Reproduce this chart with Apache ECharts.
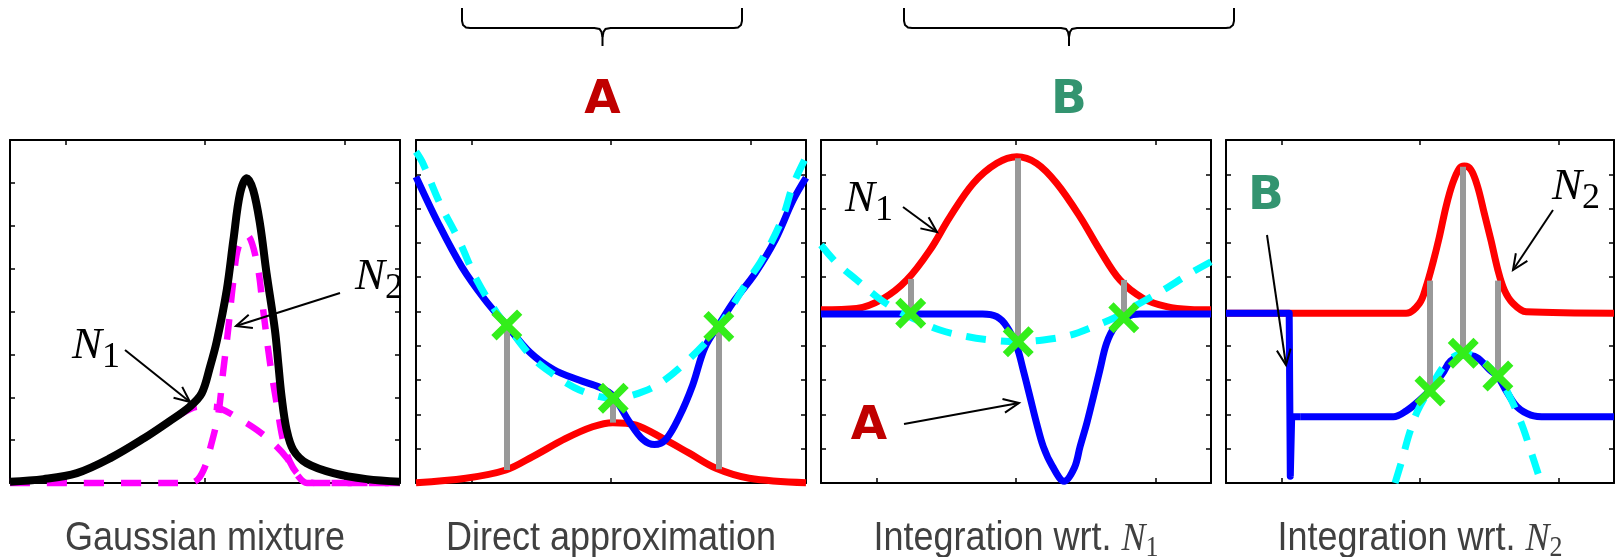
<!DOCTYPE html>
<html>
<head>
<meta charset="utf-8">
<script src="https://cdn.jsdelivr.net/npm/echarts@6/dist/echarts.min.js"></script>
<style>
html,body{margin:0;padding:0;background:#fff;}
#c{width:1615px;height:557px;}
</style>
</head>
<body>
<div id="c"></div>
<script>
// ---------- data (x in [-7,7]) ----------
const panelTitles = ['Gaussian mixture', 'Direct approximation', 'Integration wrt. ', 'Integration wrt. '];
const xTicks = [-5, 0, 5];
const yMaxes = [8, 10, 10, 10];

// Panel 1: Gaussian mixture
const mixture = [[-7,0.03],[-5.8,0.09],[-4.6,0.23],[-3.4,0.58],[-2.2,1.04],[-1.3,1.43],[-0.55,1.78],[-0.12,2.09],[0.18,2.71],[0.42,3.3],[0.78,4.5],[1.02,5.67],[1.26,6.76],[1.5,7.11],[1.73,6.83],[1.97,6.06],[2.21,4.89],[2.51,3.57],[2.63,2.79],[2.75,2.01],[2.93,1.24],[3.17,0.77],[3.65,0.46],[4.61,0.23],[5.8,0.09],[7,0.03]];
const comp1 = [[-7,0.03],[-5.8,0.09],[-4.6,0.23],[-3.4,0.58],[-2.2,1.04],[-1.3,1.43],[-0.55,1.72],[-0.2,1.78],[0.2,1.78],[0.55,1.74],[1.2,1.51],[1.86,1.24],[2.51,0.89],[2.94,0.58],[3.3,0.2],[3.66,0],[7,0]];
const comp2 = [[-7,0],[-0.54,0],[-0.25,0.09],[0.0,0.38],[0.18,0.79],[0.47,1.58],[0.65,2.59],[0.83,3.57],[1.02,4.73],[1.2,5.5],[1.5,5.78],[1.86,5.15],[2.09,4.03],[2.33,2.82],[2.58,1.82],[2.8,1.0],[3.05,0.49],[3.41,0.16],[3.95,0],[7,0]];

// Panel 2: Direct approximation
const red2 = [[-7,0.01],[-5.21,0.14],[-3.77,0.38],[-2.81,0.77],[-1.62,1.3],[-0.66,1.64],[0.06,1.76],[0.9,1.69],[1.86,1.3],[2.81,0.87],[3.77,0.43],[4.96,0.14],[7,0.01]];
const blue2 = [[-7,8.93],[-6.2,7.57],[-5.36,6.31],[-4.52,5.34],[-3.81,4.66],[-2.9,3.8],[-2.05,3.3],[-1.15,3.0],[-0.38,2.78],[0.06,2.55],[0.66,1.78],[1.14,1.27],[1.56,1.12],[1.97,1.27],[2.45,1.93],[2.93,2.85],[3.37,3.95],[3.91,4.66],[4.45,5.34],[5.17,6.11],[5.89,7.08],[6.54,8.25],[7,8.9]];
const cyan2 = [[-7,9.66],[-6.77,9.35],[-6.14,8.15],[-5.46,7.08],[-4.82,5.92],[-4.05,4.9],[-3.74,4.6],[-2.85,3.68],[-2.13,3.2],[-1.33,2.79],[-0.57,2.55],[0.06,2.47],[0.62,2.52],[1.66,2.86],[2.84,3.64],[3.87,4.56],[4.93,5.92],[5.41,6.5],[6.13,7.67],[6.54,8.7],[7,9.5]];
const gray2 = [[-3.74,0.38,4.61],[0.06,1.76,2.47],[3.87,0.4,4.56]];
const marks2 = [[-3.74,4.61],[0.08,2.47],[3.87,4.56]];

// Panel 3: Integration wrt N1
const red3 = [[-7,5.05],[-5.72,5.09],[-4.76,5.38],[-3.92,5.92],[-3.09,6.79],[-2.37,7.76],[-1.53,8.74],[-0.69,9.32],[0.03,9.51],[0.74,9.32],[1.46,8.74],[2.3,7.76],[3.01,6.79],[3.73,5.92],[4.57,5.38],[5.41,5.14],[6.25,5.06],[7,5.05]];
const blue3 = [[-7,4.93],[-1.2,4.93],[-0.69,4.85],[-0.33,4.56],[0.03,3.97],[0.26,3.29],[0.5,2.52],[0.74,1.74],[0.98,1.06],[1.3,0.5],[1.73,0.05],[2.1,0.45],[2.3,1.06],[2.54,1.74],[2.78,2.52],[3.01,3.29],[3.25,4.07],[3.55,4.56],[3.97,4.85],[4.45,4.93],[7,4.93]];
const cyan3 = [[-7,6.94],[-6.43,6.41],[-5.72,5.92],[-5.0,5.43],[-4.28,5.04],[-3.56,4.75],[-2.73,4.46],[-1.77,4.27],[-0.93,4.17],[0.03,4.12],[0.98,4.17],[1.94,4.31],[2.78,4.56],[3.62,4.85],[4.45,5.24],[5.29,5.63],[6.25,6.11],[7,6.45]];
const gray3 = [[-3.78,4.95,5.95],[0.05,4.12,9.47],[3.85,4.8,5.92]];
const marks3 = [[-3.78,4.95],[0.08,4.12],[3.87,4.82]];

// Panel 4: Integration wrt N2
const red4 = [[-7,4.95],[-0.5,4.95],[-0.02,5.24],[0.22,5.72],[0.46,6.4],[0.7,7.18],[0.94,8.06],[1.18,8.74],[1.42,9.17],[1.6,9.24],[1.84,9.13],[2.08,8.64],[2.32,7.86],[2.56,7.08],[2.81,6.21],[3.04,5.63],[3.35,5.24],[3.83,4.99],[7,4.95]];
const blue4Step = [[-7,4.95],[-4.72,4.95],[-4.68,0.2],[-4.63,1.93],[-4.3,1.93]];
const blue4Bump = [[-4.3,1.93],[-0.96,1.93],[-0.5,2.1],[0.0,2.42],[0.36,2.71],[0.82,3.2],[1.1,3.55],[1.56,3.73],[2.05,3.66],[2.53,3.29],[2.81,3.1],[3.1,2.7],[3.5,2.22],[4.0,1.98],[4.57,1.93],[7,1.93]];
const cyan4 = [[-0.9,0],[-0.65,0.67],[-0.4,1.4],[-0.1,2.08],[0.36,2.75],[0.96,3.5],[1.56,3.78],[2.17,3.6],[2.81,3.1],[3.25,2.5],[3.68,1.69],[3.97,1.0],[4.37,0]];
const gray4 = [[0.36,2.68,5.9],[1.56,3.78,9.22],[2.81,3.12,5.9]];
const marks4 = [[0.36,2.68],[1.56,3.78],[2.81,3.12]];

// ---------- styling ----------
const RED='#ff0000', BLUE='#0000ff', CYAN='#00ffff', GRAY='#999999', GREEN='#33ee1a', MAG='#ff00ff';
const DASH=[20,15];
const XPATH='path://M0,1.7 L1.7,0 L5,3.3 L8.3,0 L10,1.7 L6.7,5 L10,8.3 L8.3,10 L5,6.7 L1.7,10 L0,8.3 L3.3,5 Z';
const gridBoxes=[{left:10,width:390},{left:416,width:390},{left:821,width:390},{left:1226,width:388}];

const chart = echarts.init(document.getElementById('c'), null, {renderer:'canvas'});

const grid=[], xAxis=[], yAxis=[];
gridBoxes.forEach((g,i)=>{
  grid.push({left:g.left, top:140, width:g.width, height:343, show:false});
  const tick={show:true, inside:true, length:5, lineStyle:{color:'#000', width:1.5}};
  const line={show:true, onZero:false, lineStyle:{color:'#000', width:2}};
  ['bottom','top'].forEach(p=>xAxis.push({type:'value', gridIndex:i, position:p, min:-7, max:7,
    axisLine:line, axisTick:Object.assign({customValues:xTicks}, tick), axisLabel:{show:false}, splitLine:{show:false}}));
  ['left','right'].forEach(p=>yAxis.push({type:'value', gridIndex:i, position:p, min:0, max:yMaxes[i], interval:1,
    axisLine:line, axisTick:tick, axisLabel:{show:false}, splitLine:{show:false}}));
});

function L(gi, data, color, width, z, opts){
  opts = opts||{};
  return {type:'line', xAxisIndex:2*gi, yAxisIndex:2*gi, data:data, symbol:'none', showSymbol:false,
    smooth: opts.smooth===undefined?0.35:opts.smooth, clip:false, silent:true, z:z,
    lineStyle:{color:color, width:width, type:opts.dash||'solid', cap:'butt', join:'round'}};
}
function G(gi, segs){
  return {type:'lines', coordinateSystem:'cartesian2d', xAxisIndex:2*gi, yAxisIndex:2*gi, silent:true, z:5,
    lineStyle:{color:GRAY, width:6, opacity:1, curveness:0},
    data: segs.map(s=>({coords:[[s[0],s[1]],[s[0],s[2]]]}))};
}
function X(gi, pts){
  return {type:'scatter', xAxisIndex:2*gi, yAxisIndex:2*gi, data:pts, symbol:XPATH, symbolSize:31, silent:true, z:6,
    itemStyle:{color:GREEN, opacity:1}};
}

const series=[
  L(0, comp1, MAG, 6.5, 2, {dash:[20,17]}),
  L(0, comp2, MAG, 6.5, 2, {dash:[20,17]}),
  L(0, mixture, '#000', 8, 3),
  L(1, red2, RED, 7, 2), L(1, blue2, BLUE, 7, 3), L(1, cyan2, CYAN, 7, 4, {dash:DASH}), G(1, gray2), X(1, marks2),
  L(2, red3, RED, 7, 2), L(2, blue3, BLUE, 7, 3), L(2, cyan3, CYAN, 7, 4, {dash:DASH}), G(2, gray3), X(2, marks3),
  L(3, red4, RED, 7, 2), L(3, blue4Step, BLUE, 7, 3, {smooth:false}), L(3, blue4Bump, BLUE, 7, 3), L(3, cyan4, CYAN, 7, 4, {dash:DASH}), G(3, gray4), X(3, marks4)
];

// ---------- annotations ----------
function arrow(x1,y1,x2,y2){
  const a=Math.atan2(y2-y1,x2-x1), Lh=17, t=0.42;
  return [
    {type:'line', shape:{x1:x1,y1:y1,x2:x2,y2:y2}, style:{stroke:'#000', lineWidth:2}, z:100},
    {type:'polyline', shape:{points:[[x2-Lh*Math.cos(a-t), y2-Lh*Math.sin(a-t)],[x2,y2],[x2-Lh*Math.cos(a+t), y2-Lh*Math.sin(a+t)]]}, style:{stroke:'#000', lineWidth:2, fill:null}, z:100}
  ];
}
function brace(x1,xm,x2){
  const pts=[[x1,8],[x1,21],[x1+1,25],[x1+4,27.5],[x1+8,28],[xm-8,28],[xm-3,29],[xm-1,32],[xm,37],[xm,46]];
  const rpts=[[x2,8],[x2,21],[x2-1,25],[x2-4,27.5],[x2-8,28],[xm+8,28],[xm+3,29],[xm+1,32],[xm,37]];
  return [
    {type:'polyline', shape:{points:pts}, style:{stroke:'#000', lineWidth:2, fill:null}},
    {type:'polyline', shape:{points:rpts}, style:{stroke:'#000', lineWidth:2, fill:null}}
  ];
}
const NRICH = {
  n:{fontFamily:'Liberation Serif', fontStyle:'italic', fontSize:45, fill:'#000'},
  s:{fontFamily:'Liberation Serif', fontSize:36, fill:'#000', padding:[24,0,0,0]}
};
function nLabel(x,y,sub){
  return {type:'text', x:x, y:y, z:100, style:{text:'{n|N}{s|'+sub+'}', rich:NRICH, align:'left', verticalAlign:'middle'}};
}
function bigLetter(x,y,t,color){
  return {type:'text', x:x, y:y, z:100, style:{text:t, fontFamily:'DejaVu Sans', fontWeight:'bold', fontSize:47, fill:color, align:'center', verticalAlign:'middle'}};
}
const TRICH = {
  t:{fontFamily:'Liberation Sans', fontSize:36, fill:'#404040'},
  n:{fontFamily:'Liberation Serif', fontStyle:'italic', fontSize:36, fill:'#404040'},
  s:{fontFamily:'Liberation Serif', fontSize:26, fill:'#404040', padding:[16,0,0,0]}
};
const titleCx=[205,611,1016,1420];
const graphics=[];
titleCx.forEach((cx,i)=>{
  const txt = i<2 ? '{t|'+panelTitles[i]+'}' : '{t|'+panelTitles[i]+'}{n|N}{s|'+(i-1)+'}';
  graphics.push({type:'text', x:cx, y:539, scaleY:1.13, z:100, style:{text:txt, rich:TRICH, align:'center', verticalAlign:'middle'}});
});
graphics.push(...brace(462,602.5,742), ...brace(904,1069,1234));
graphics.push(bigLetter(602.5,101,'A','#c00000'), bigLetter(1069,101,'B','#339470'));
graphics.push(nLabel(72,346,'1'), ...arrow(125,350,190,402));
graphics.push(nLabel(355,277,'2'), ...arrow(340,293,236,326));
graphics.push(nLabel(845,199,'1'), ...arrow(903,207,937,232));
graphics.push(bigLetter(869,427,'A','#c00000'), ...arrow(904,424,1019,403));
graphics.push(bigLetter(1266,197,'B','#339470'), ...arrow(1267,235,1286,365));
graphics.push(nLabel(1552,187,'2'), ...arrow(1553,210,1513,270));

chart.setOption({animation:false, backgroundColor:'#fff', grid:grid, xAxis:xAxis, yAxis:yAxis, series:series, graphic:{elements:graphics}});
</script>
</body>
</html>
